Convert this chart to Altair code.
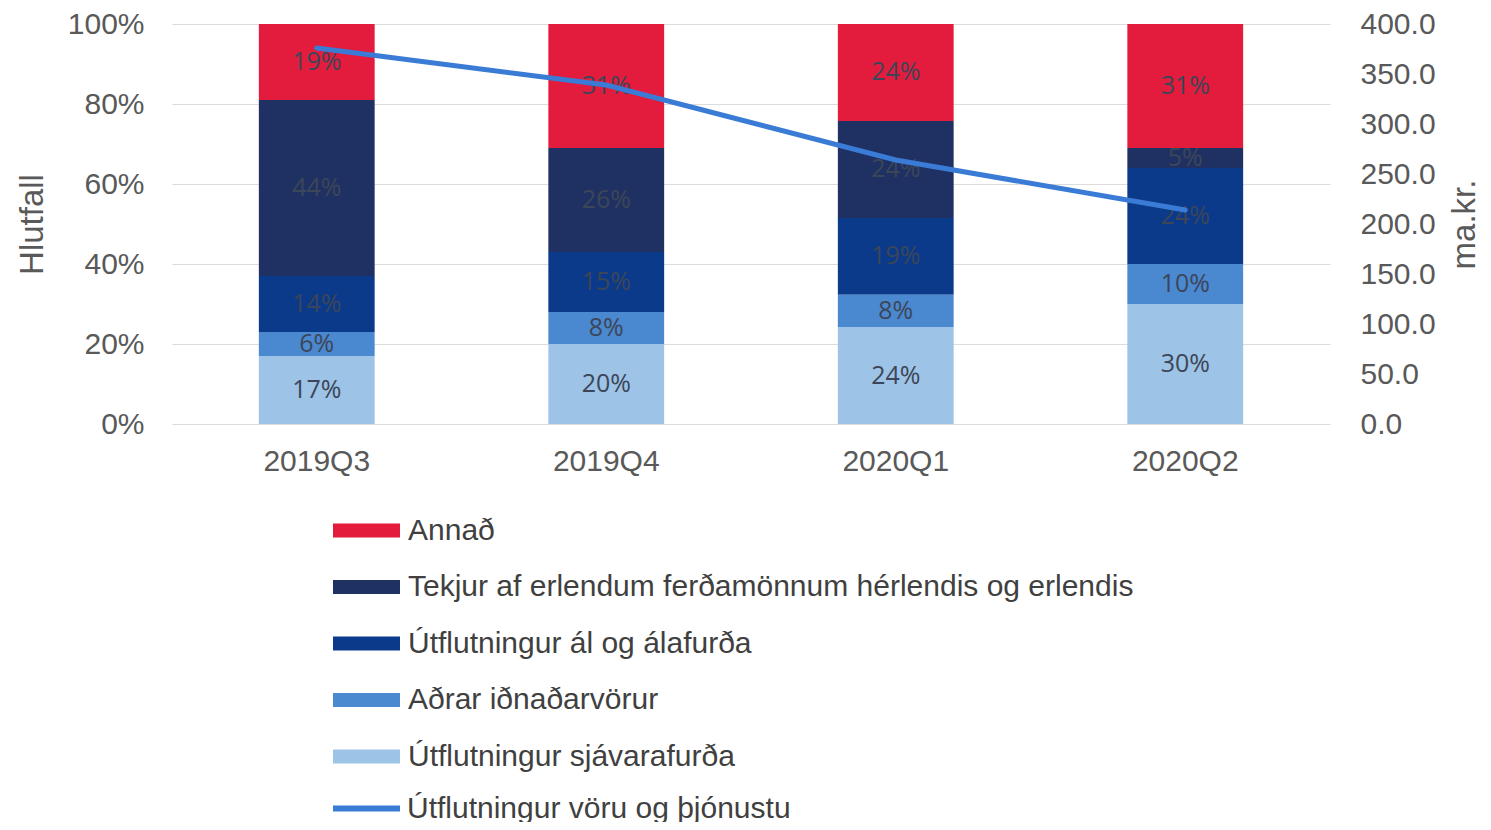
import altair as alt
import pandas as pd

categories = ["2019Q3", "2019Q4", "2020Q1", "2020Q2"]
series = [
    "Annað",
    "Tekjur af erlendum ferðamönnum hérlendis og erlendis",
    "Útflutningur ál og álafurða",
    "Aðrar iðnaðarvörur",
    "Útflutningur sjávarafurða",
]
stack_rank = [4, 3, 2, 1, 0]
colors = ["#E31B3D", "#1F3163", "#0B3A8A", "#4A88D0", "#9DC3E6"]

annad = [19, 31, 24, 31]
tekjur = [44, 26, 24, 5]
al = [14, 15, 19, 24]
adrar = [6, 8, 8, 10]
sjavar = [17, 20, 24, 30]

line_name = "Útflutningur vöru og þjónustu"
line_values = [376, 339, 264, 214]

rows = []
for s, rank, vals in zip(series, stack_rank, [annad, tekjur, al, adrar, sjavar]):
    for c, v in zip(categories, vals):
        rows.append({"cat": c, "series": s, "ord": rank, "value": v})
bars_df = pd.DataFrame(rows)
line_df = pd.DataFrame({"cat": categories, "val": line_values, "name": line_name})

FONT = "Liberation Sans"
GRAY = "#595959"

x_enc = alt.X(
    "cat:N",
    sort=categories,
    title=None,
    scale=alt.Scale(paddingInner=0.6, paddingOuter=0.3),
    axis=alt.Axis(labelAngle=0, ticks=False, domain=False, labelPadding=22,
                  labelFontSize=30, labelColor=GRAY, labelFont=FONT),
)

left_axis = alt.Axis(title="Hlutfall", format=".0%", values=[0, 0.2, 0.4, 0.6, 0.8, 1.0],
                     grid=True, gridColor="#DCDCDC", gridWidth=1.2, domain=False, ticks=False,
                     labelFontSize=30, labelColor=GRAY, labelFont=FONT, labelPadding=28,
                     titleFontSize=33, titleColor=GRAY, titleFont=FONT, titleFontWeight="normal",
                     titlePadding=18)

base = alt.Chart(bars_df).transform_stack(
    stack="value", groupby=["cat"], as_=["y0", "y1"], offset="normalize",
    sort=[alt.SortField("ord", order="ascending")],
).transform_calculate(mid="(datum.y0 + datum.y1) / 2", label="datum.value + '%'")

bars = base.mark_bar().encode(
    x=x_enc,
    y=alt.Y("y0:Q", scale=alt.Scale(domain=[0, 1], nice=False), axis=left_axis),
    y2="y1:Q",
    fill=alt.Fill("series:N", scale=alt.Scale(domain=series, range=colors),
                  legend=alt.Legend(title=None, orient="none", legendX=161, legendY=473,
                                    symbolType="M-1,-0.21L1,-0.21L1,0.21L-1,0.21Z",
                                    symbolSize=4489, symbolStrokeWidth=0,
                                    labelFontSize=30, labelFont=FONT, labelColor="#404040",
                                    labelOffset=8, rowPadding=7.5, padding=0, labelLimit=1000)),
)

text = base.mark_text(font="Open Sans", fontSize=25, color="#3C4658", baseline="middle").encode(
    x=alt.X("cat:N", sort=categories),
    y=alt.Y("mid:Q", scale=alt.Scale(domain=[0, 1], nice=False), axis=left_axis),
    text="label:N",
)

line = alt.Chart(line_df).mark_line(strokeWidth=5, strokeCap="round").encode(
    x=alt.X("cat:N", sort=categories),
    y=alt.Y("val:Q", scale=alt.Scale(domain=[0, 400], nice=False),
            axis=alt.Axis(orient="right", title="ma.kr.", format=".1f",
                          values=[0, 50, 100, 150, 200, 250, 300, 350, 400],
                          grid=False, domain=False, ticks=False,
                          labelFontSize=30, labelColor=GRAY, labelFont=FONT, labelPadding=30,
                          titleFontSize=33, titleColor=GRAY, titleFont=FONT, titleFontWeight="normal",
                          titleAngle=270, titlePadding=46)),
    stroke=alt.Stroke("name:N", scale=alt.Scale(domain=[line_name], range=["#3A7BD5"]),
                      legend=alt.Legend(title=None, orient="none", legendX=158, legendY=748,
                                        symbolType="stroke", symbolSize=4489, symbolStrokeWidth=6,
                                        labelFontSize=30, labelFont=FONT, labelColor="#404040",
                                        labelOffset=4, padding=0, labelLimit=1000)),
)

chart = alt.layer(alt.layer(bars, text), line).resolve_scale(
    y="independent", fill="independent", stroke="independent"
).properties(
    width=1158, height=400,
    padding={"left": 164, "top": 16, "right": 153, "bottom": 398},
    autosize=alt.AutoSizeParams(type="none"),
).configure_view(stroke=None)

chart.save("out.html", embed_options={"renderer": "svg", "actions": False})
